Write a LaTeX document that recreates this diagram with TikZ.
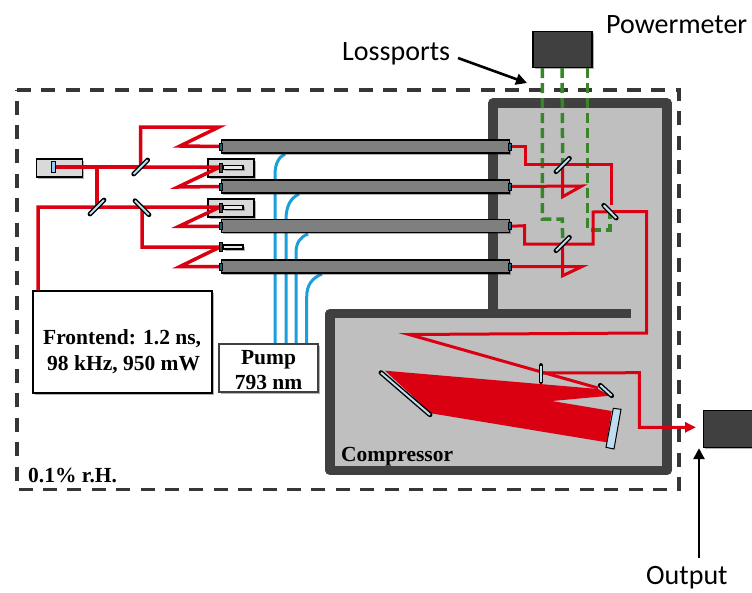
\documentclass[tikz,border=0pt]{standalone}
\usepackage{fontspec}
\setmainfont{Liberation Serif}
\newfontfamily\labelfont{Carlito}
\usetikzlibrary{shadows,arrows.meta}
\definecolor{beamred}{HTML}{DA0011}
\definecolor{wallgray}{HTML}{404040}
\definecolor{roomgray}{HTML}{BFBFBF}
\definecolor{rodgray}{HTML}{7F7F7F}
\definecolor{boxgray}{HTML}{D9D9D9}
\definecolor{lensblue}{HTML}{BFDDF0}
\definecolor{fiberblue}{HTML}{1A9FDC}
\definecolor{lossgreen}{HTML}{38862A}
\tikzset{
  softshadow/.style={drop shadow={shadow xshift=1.5pt,shadow yshift=-1.5pt,opacity=.3,fill=black}},
  beam/.style={draw=beamred,line width=3.5pt,line join=miter},
  thinbeam/.style={draw=beamred,line width=3pt,line join=miter},
  fiber/.style={draw=fiberblue,line width=3pt},
  loss/.style={draw=lossgreen,line width=3.5pt,dash pattern=on 10pt off 5pt},
  optic/.style={preaction={draw=black,line width=4.8pt,line cap=round},draw=lensblue,line width=2pt,line cap=butt},
  rod/.style={draw=black,fill=rodgray,line width=1.3pt,minimum height=13pt,inner sep=0pt,softshadow},
  rodcap/.style={draw=black,fill=fiberblue!60!black,line width=.8pt,inner sep=0pt,minimum width=2.6pt,minimum height=7pt},
  holder/.style={draw=black,fill=boxgray,line width=1.2pt,minimum width=46pt,minimum height=18pt,inner sep=0pt,softshadow},
  isorod/.style={draw=black,fill=boxgray!60,line width=1.1pt,minimum width=20pt,minimum height=4pt,inner sep=0pt,softshadow},
  isocap/.style={draw=black,fill=rodgray!60!black,line width=.8pt,minimum width=3pt,minimum height=9pt,inner sep=0pt},
  meter/.style={draw=black,fill=wallgray,line width=1.2pt,inner sep=0pt,softshadow},
  info/.style={draw=black,fill=white,line width=1.5pt,inner sep=0pt,softshadow},
  serifbig/.style={inner sep=0pt,anchor=base west,font=\fontsize{21.5}{26}\selectfont\bfseries},
  sidetext/.style={inner sep=0pt,anchor=base west,font=\labelfont\fontsize{28}{32}\selectfont},
  pointer/.style={draw=black,line width=2.6pt,-{Triangle[length=11pt,width=11pt]}}
}
\begin{document}
\begin{tikzpicture}[x=1pt,y=-1pt]
\useasboundingbox (0,0) rectangle (752,592);

% climate enclosure
\draw[draw=wallgray!85!black,line width=3.6pt,dash pattern=on 14pt off 10.4pt] (17,90) -- (679,90) -- (679,489.5) -- (17,489.5) -- cycle;

% chambers
\path[fill=roomgray] (493,103) -- (667,103) -- (667,470.5) -- (330,470.5) -- (330,313.5) -- (493,313.5) -- cycle;
\draw[draw=wallgray,line width=9.4pt,line join=round] (493,313) -- (493,103) -- (667,103) -- (667,470.5) -- (330,470.5) -- (330,313.5) -- (631,313.5);

% named points of the layout
\coordinate (seed) at (55,167);
\coordinate (bsa) at (140.7,167);
\coordinate (bsb) at (97,207);
\coordinate (bsc) at (142,207);
\coordinate (bsd) at (562.7,165);
\coordinate (bse) at (562.7,244);
\coordinate (bsf) at (610,211.7);
\coordinate (pickoff) at (541,373);

% pump fibres
\draw[fiber] (275,344) -- (275,175) .. controls (275,163) and (279,157) .. (285,154);
\draw[fiber] (286,344) -- (286,220) .. controls (286,205) and (291,198) .. (299,194);
\draw[fiber] (296,344) -- (296,253) .. controls (296,243) and (300,237) .. (308,234);
\draw[fiber] (306.7,344) -- (306.7,297) .. controls (306.7,285) and (312,278) .. (322,274);

% seed and isolator holders
\node[holder] (seedbox) at (59.7,168) {};
\node[holder] (holdera) at (231,168) {};
\node[holder] (holderb) at (231,208) {};

% loss-port paths
\node[meter,minimum width=59pt,minimum height=36pt] (powermeter) at (562.5,49.7) {};
\draw[loss] (542.3,68) -- (542.3,219) -- (562.3,219) -- (bse);
\draw[loss] (562,68) -- (bsd);
\draw[loss] (587.7,68) -- (587.7,230) -- (610,230) -- (bsf);

% amplifier rods
\node[rod,minimum width=288pt] (roda) at (365.5,146.5) {};
\node[rod,minimum width=288pt] (rodb) at (365.5,186.5) {};
\node[rod,minimum width=288pt] (rodc) at (365.5,226.3) {};
\node[rod,minimum width=288pt] (rodd) at (365.5,266.5) {};

% frontend beams
\node[info,minimum width=179pt,minimum height=102pt] (frontend) at (122.5,342) {};
\node[serifbig] (frontendone) at (43,344) {Frontend: 1.2 ns,};
\node[serifbig] (frontendtwo) at (47,370) {98 kHz, 950 mW};
\draw[beam] (seed) -- (bsa);
\draw[beam] (bsa) -- (220,167) -- (178,187) -- (rodb.west);
\draw[beam] (bsa) -- (140.7,127) -- (219,127) -- (180,146) -- (roda.west);
\draw[beam] (97,167) -- (bsb);
\draw[beam] (frontend.north -| 38,0) -- (38,207) -- (bsb) -- (bsc) -- (220,207) -- (179,226.3) -- (rodc.west);
\draw[beam] (bsc) -- (142,247) -- (220,247) -- (180,266.5) -- (rodd.west);

% right-hand beams
\draw[thinbeam] (roda.east) -- (525,146.5) -- (525,164.5) -- (611.7,164.5) -- (611.7,205);
\draw[thinbeam] (rodb.east) -- (581.7,186) -- (562.7,196.7) -- (bsd);
\draw[thinbeam] (rodc.east) -- (524.5,225.7) -- (524.5,244) -- (593,244) -- (593,212) -- (bsf);
\draw[thinbeam] (rodd.east) -- (581.7,266.7) -- (562.7,275.7) -- (bse);
\draw[thinbeam] (bsf) -- (646.7,211.7) -- (646.7,333) -- (409,334.5) -- (598,388);

% compressor beam
\fill[beamred] (385,370.7) -- (598,389) -- (610,395.7) -- (551.7,401) -- (611.7,411) -- (606.7,442.3) -- (431,413.3) -- cycle;
\draw[thinbeam,-{Triangle[length=11pt,width=10pt]}] (pickoff) -- (639.3,372.7) -- (639.3,427.3) -- (696,427.3);

% rod caps
\foreach \r in {a,b,c,d}{
  \node[rodcap] at (rod\r.west) {};
  \node[rodcap] at (rod\r.east) {};
}

% isolators
\foreach \y/\n in {167.5/a,207.5/b,247/c}{
  \node[isorod] (iso\n) at (233,\y) {};
  \node[isocap] (cap\n) at (220.5,\y) {};
}
\node[draw=black,fill=fiberblue!50,line width=1pt,minimum width=3.4pt,minimum height=10.5pt,inner sep=0pt] (seedlens) at (53.5,167) {};

% beam splitters and mirrors
\draw[optic] (133.7,174) -- (147.7,160);
\draw[optic] (90,214) -- (104,200);
\draw[optic] (135,200.7) -- (149,214.7);
\draw[optic] (556,171.7) -- (569.4,158.3);
\draw[optic] (556,250.7) -- (569.4,237.3);
\draw[optic] (603.7,205.3) -- (616.3,218);
\draw[optic] (381,372.6) -- (430,414.8);
\draw[optic] (600.3,385.3) -- (611.7,395.7);
\draw[optic] (pickoff |- 0,365.5) -- (pickoff |- 0,381.5);
\draw[draw=black,fill=lensblue,line width=1pt] (613.3,408.3) -- (621,409.3) -- (614,449) -- (606,447.3) -- cycle;

% output detector
\node[meter,anchor=north west,minimum width=52pt,minimum height=37pt] (outbox) at (703,410) {};

% labels
\node[info,draw=wallgray,line width=2pt,minimum width=99pt,minimum height=48pt] (pump) at (268.5,368) {};
\node[serifbig,anchor=base] (pumpone) at (268.5,364) {Pump};
\node[serifbig,anchor=base] (pumptwo) at (268.5,389.5) {793 nm};
\node[serifbig] (humidity) at (28,482) {0.1\% r.H.};
\node[serifbig] (compressor) at (341,461) {Compressor};
\node[sidetext] (lossports) at (342,60) {Lossports};
\node[sidetext] (powerlabel) at (606,33) {Powermeter};
\node[sidetext] (outputlabel) at (646,584) {Output};
\coordinate (lossend) at (527,83);
\draw[pointer] (458,58) -- (lossend);
\draw[pointer] (699,558) -- (outbox.south west -| 699,0);
\end{tikzpicture}
\end{document}
